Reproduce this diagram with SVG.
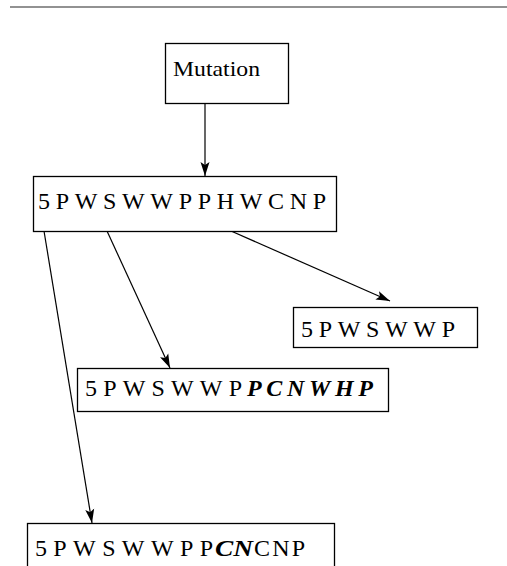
<svg xmlns="http://www.w3.org/2000/svg" width="507" height="566" viewBox="0 0 507 566">
<defs>
<style>
.box{fill:#fff;stroke:#000;stroke-width:1.3}
.t{font-family:"Liberation Serif","Times New Roman",serif;font-size:24px;fill:#000}
.m{font-size:22px}
.bi{font-weight:bold;font-style:italic}
.edge{stroke:#000;stroke-width:1.2;fill:none;marker-end:url(#ah)}
</style>
<marker id="ah" markerWidth="16" markerHeight="12" refX="14" refY="6" orient="auto" markerUnits="userSpaceOnUse">
<path d="M0,1.5 L14,6 L0,10.5 L3,6 z" fill="#000"/>
</marker>
</defs>
<rect width="507" height="566" fill="#fff"/>
<line x1="10" y1="7" x2="507" y2="7" stroke="#6e6e6e" stroke-width="1.5"/>
<g id="connectors">
<line class="edge" x1="205" y1="103" x2="205" y2="176"/>
<line class="edge" x1="231" y1="231" x2="390" y2="301"/>
<line class="edge" x1="107" y1="231" x2="170" y2="368"/>
<line class="edge" x1="44" y1="231" x2="92" y2="523"/>
</g>
<g id="mutation">
<rect class="box" x="165.5" y="43.5" width="123" height="60"/>
<text class="t m" x="173" y="76" textLength="87" lengthAdjust="spacingAndGlyphs">Mutation</text>
</g>
<g id="main">
<rect class="box" x="33.5" y="176.5" width="303" height="55"/>
<text class="t" x="38" y="209" textLength="288" lengthAdjust="spacing">5PWSWWPPHWCNP</text>
</g>
<g id="short">
<rect class="box" x="293.5" y="307.5" width="184" height="40"/>
<text class="t" x="301" y="337" textLength="154" lengthAdjust="spacing">5PWSWWP</text>
</g>
<g id="variant1">
<rect class="box" x="77.5" y="368.5" width="311" height="43"/>
<text class="t" x="85" y="396" textLength="157" lengthAdjust="spacing">5PWSWWP</text>
<text class="t bi" x="247" y="396" textLength="126" lengthAdjust="spacing">PCNWHP</text>
</g>
<g id="variant2">
<rect class="box" x="27.5" y="523.5" width="307" height="60"/>
<text class="t" x="35" y="556" textLength="178" lengthAdjust="spacing">5PWSWWPP</text>
<text class="t bi" x="215" y="556" textLength="38" lengthAdjust="spacingAndGlyphs">CN</text>
<text class="t" x="254" y="556" textLength="51" lengthAdjust="spacing">CNP</text>
</g>
</svg>
